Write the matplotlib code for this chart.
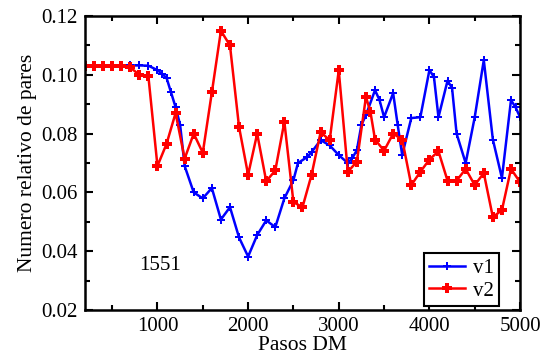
import matplotlib
matplotlib.use('Agg')
import matplotlib.pyplot as plt
from matplotlib.ticker import MultipleLocator

# --- datos ---
pasos_v1 = [200, 300, 400, 500, 600, 700, 800, 900, 1000, 1050, 1100, 1150, 1200,
            1250, 1300, 1400, 1500, 1600, 1700, 1800, 1900, 2000, 2100, 2200, 2300,
            2400, 2500, 2550, 2650, 2700, 2800, 2900, 3000, 3100, 3150, 3200, 3250,
            3300, 3400, 3450, 3500, 3600, 3650, 3700, 3800, 3900, 4000, 4050, 4100,
            4200, 4250, 4300, 4400, 4500, 4600, 4700, 4800, 4900, 4950, 5000]
v1 = [0.1030, 0.1030, 0.1030, 0.1030, 0.1031, 0.1032, 0.1032, 0.1031, 0.1016, 0.1003,
      0.0990, 0.0940, 0.0890, 0.0830, 0.0690, 0.0600, 0.0580, 0.0615, 0.0508, 0.0550,
      0.0447, 0.0382, 0.0455, 0.0505, 0.0482, 0.0580, 0.0642, 0.0700, 0.0720, 0.0737,
      0.0778, 0.0760, 0.0727, 0.0700, 0.0717, 0.0744, 0.0830, 0.0863, 0.0948, 0.0914,
      0.0856, 0.0938, 0.0830, 0.0727, 0.0853, 0.0856, 0.1016, 0.0993, 0.0856, 0.0980,
      0.0955, 0.0800, 0.0700, 0.0856, 0.1050, 0.0780, 0.0649, 0.0914, 0.0890, 0.0856]

pasos_v2 = [200, 300, 400, 500, 600, 700, 800, 900, 1000, 1100, 1200, 1300, 1400,
            1500, 1600, 1700, 1800, 1900, 2000, 2100, 2200, 2300, 2400, 2500, 2600,
            2700, 2800, 2900, 3000, 3100, 3200, 3300, 3350, 3400, 3500, 3600, 3700,
            3800, 3900, 4000, 4100, 4200, 4300, 4400, 4500, 4600, 4700, 4800, 4900, 5000]
v2 = [0.1030, 0.1030, 0.1030, 0.1030, 0.1030, 0.1025, 0.1000, 0.0995, 0.0690, 0.0765,
      0.0870, 0.0715, 0.0800, 0.0735, 0.0940, 0.1150, 0.1100, 0.0823, 0.0660, 0.0800,
      0.0638, 0.0675, 0.0840, 0.0567, 0.0550, 0.0660, 0.0805, 0.0778, 0.1015, 0.0670,
      0.0705, 0.0925, 0.0873, 0.0780, 0.0742, 0.0800, 0.0780, 0.0625, 0.0670, 0.0712,
      0.0740, 0.0640, 0.0640, 0.0680, 0.0625, 0.0666, 0.0516, 0.0540, 0.0680, 0.0635]

plt.rcParams['font.family'] = ['Liberation Serif', 'DejaVu Serif']
plt.rcParams['font.size'] = 15

fig = plt.figure(figsize=(5.48, 3.56), dpi=100)
ax = fig.add_axes([0.155, 0.129, 0.794, 0.826])

ax.plot(pasos_v1, v1, color='blue', lw=1.8, marker='P', ms=6, mew=0, label='v1')
ax.plot(pasos_v2, v2, color='red', lw=1.8, marker='P', ms=7.5, mew=0, label='v2')

ax.set_xlim(200, 5000)
ax.set_ylim(0.02, 0.12)
ax.xaxis.set_major_locator(MultipleLocator(1000))
ax.xaxis.set_minor_locator(MultipleLocator(500))
ax.yaxis.set_minor_locator(MultipleLocator(0.01))
ax.set_yticks([0.02, 0.04, 0.06, 0.08, 0.10, 0.12])
ax.set_yticklabels(['0.02', '0.04', '0.06', '0.08', '0.10', '0.12'])

ax.tick_params(which='both', direction='in', top=True, right=True, width=1.5)
ax.tick_params(which='major', length=6, pad=5)
ax.tick_params(which='minor', length=3.5)
for sp in ax.spines.values():
    sp.set_linewidth(1.8)

ax.set_xlabel('Pasos DM', fontsize=15.5, labelpad=0)
ax.set_ylabel('Numero relativo de pares', fontsize=15.5, labelpad=3)

ax.text(1030, 0.0353, '1551', ha='center', va='center', fontsize=15)

leg = ax.legend(loc='lower right', bbox_to_anchor=(0.952, 0.014), borderaxespad=0,
                fancybox=False, framealpha=1, edgecolor='black', handlelength=1.7,
                handletextpad=0.4, borderpad=0.25, labelspacing=0.15)
leg.get_frame().set_linewidth(1.5)

fig.savefig('out.png', dpi=100)
